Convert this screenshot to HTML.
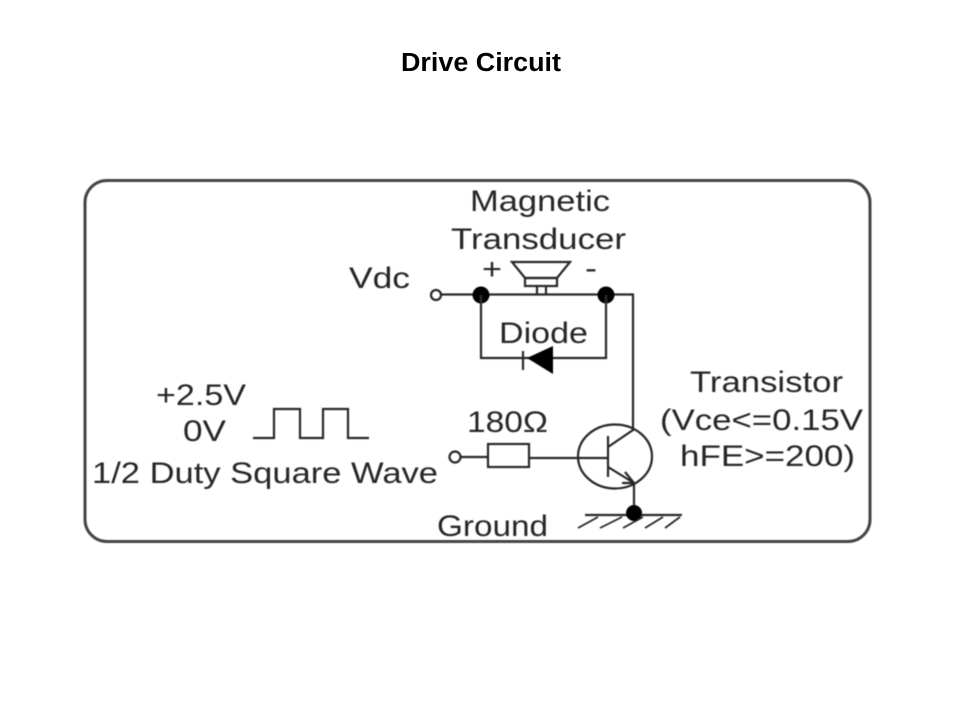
<!DOCTYPE html>
<html>
<head>
<meta charset="utf-8">
<style>
html,body{margin:0;padding:0;background:#fff}
svg{display:block}
.t text{font-family:"Liberation Sans",sans-serif;font-size:30px;fill:#262626}
.l{fill:none;stroke:#262626;stroke-width:2.200}
</style>
</head>
<body>
<svg width="960" height="720" viewBox="0 0 960 720" xmlns="http://www.w3.org/2000/svg">
<defs><filter id="b" x="-5%" y="-5%" width="110%" height="110%"><feGaussianBlur stdDeviation="0.45"/></filter></defs>
<text x="401" y="71" textLength="160" lengthAdjust="spacingAndGlyphs" style="font-family:'Liberation Sans',sans-serif;font-weight:bold;font-size:25.500px;fill:#000">Drive Circuit</text>
<g filter="url(#b)">
<rect x="85" y="180.500" width="785" height="361" rx="22" ry="22" fill="none" stroke="#444" stroke-width="3"/>
<g class="t">
<text x="470" y="211" textLength="140" lengthAdjust="spacingAndGlyphs">Magnetic</text>
<text x="451" y="249" textLength="175" lengthAdjust="spacingAndGlyphs">Transducer</text>
<text x="482" y="279" textLength="20" lengthAdjust="spacingAndGlyphs">+</text>
<text x="585" y="278" textLength="12" lengthAdjust="spacingAndGlyphs">-</text>
<text x="349" y="288" textLength="61" lengthAdjust="spacingAndGlyphs">Vdc</text>
<text x="499" y="343" textLength="89" lengthAdjust="spacingAndGlyphs">Diode</text>
<text x="156" y="405" textLength="90" lengthAdjust="spacingAndGlyphs">+2.5V</text>
<text x="183" y="441" textLength="43" lengthAdjust="spacingAndGlyphs">0V</text>
<text x="92" y="483" textLength="346" lengthAdjust="spacingAndGlyphs">1/2 Duty Square Wave</text>
<text x="467" y="432" textLength="81" lengthAdjust="spacingAndGlyphs">180Ω</text>
<text x="690" y="392" textLength="153" lengthAdjust="spacingAndGlyphs">Transistor</text>
<text x="660" y="430" textLength="203" lengthAdjust="spacingAndGlyphs">(Vce&lt;=0.15V</text>
<text x="680" y="466" textLength="175" lengthAdjust="spacingAndGlyphs">hFE&gt;=200)</text>
<text x="437" y="536" textLength="111" lengthAdjust="spacingAndGlyphs">Ground</text>
</g>
<!-- speaker -->
<path class="l" d="M512 262H570L557 278H525Z"/>
<rect class="l" x="525" y="278" width="32" height="8"/>
<path class="l" d="M537 286V294M546 286V294"/>
<!-- top rail -->
<circle class="l" cx="436" cy="295" r="5"/>
<path class="l" d="M441 294.500H633V431"/>
<circle cx="481" cy="295" r="8.500" fill="#000"/>
<circle cx="606" cy="295" r="8.500" fill="#000"/>
<!-- diode loop -->
<path class="l" d="M481 295V358H606V295"/>
<path d="M527 358L553 346V374Z" fill="#000"/>
<path class="l" d="M523 351V370"/>
<!-- square wave -->
<path class="l" d="M253 438H274V409H300V438H323V409H348V438H369"/>
<!-- input and resistor -->
<circle class="l" cx="455" cy="457" r="5.500"/>
<path class="l" d="M460 457H488"/>
<rect class="l" x="488" y="444" width="41" height="23"/>
<path class="l" d="M529 458H608"/>
<!-- transistor -->
<ellipse class="l" cx="615" cy="456.500" rx="37" ry="32"/>
<path class="l" d="M608 436V477"/>
<path class="l" d="M608 447L633 430"/>
<path class="l" d="M608 467L634 483"/>
<path class="l" d="M625 472L634 483L622 483"/>
<path class="l" d="M634 483V513"/>
<!-- ground -->
<path class="l" d="M585 515H682"/>
<circle cx="634" cy="513" r="8" fill="#000"/>
<path class="l" d="M598 517L578 528M622 517L600 528M643 517L623 528M663 517L645 528M680 517L665 528" style="stroke-width:1.800"/>
</g>
</svg>
</body>
</html>
